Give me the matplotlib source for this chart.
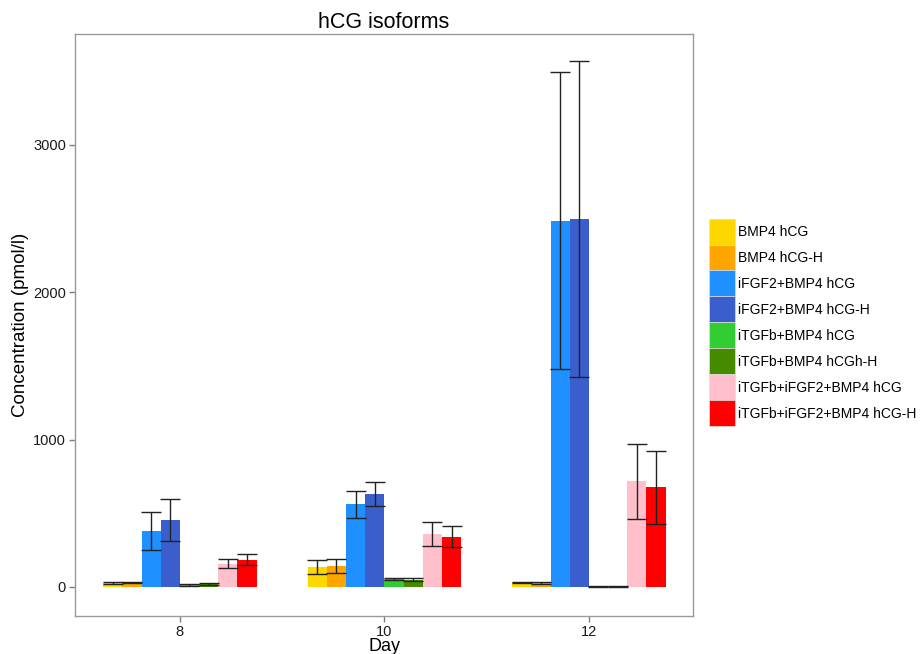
import matplotlib
matplotlib.use("Agg")
import matplotlib.pyplot as plt
import matplotlib.patches as mpatches
import numpy as np

# ── Data ──────────────────────────────────────────────────────────────────────
DAYS = ["8", "10", "12"]
GROUPS = [
    "BMP4 hCG",
    "BMP4 hCG-H",
    "iFGF2+BMP4 hCG",
    "iFGF2+BMP4 hCG-H",
    "iTGFb+BMP4 hCG",
    "iTGFb+BMP4 hCGh-H",
    "iTGFb+iFGF2+BMP4 hCG",
    "iTGFb+iFGF2+BMP4 hCG-H",
]
COLORS = ["#FFD700", "#FFA500", "#1E90FF", "#3A5FCD",
          "#32CD32", "#458B00", "#FFC0CB", "#FF0000"]

# mean concentration per group, one entry per day (8, 10, 12)
bmp4_hcg        = [27, 135, 32]
bmp4_hcgh       = [30, 142, 28]
ifgf2_hcg       = [380, 561, 2486]
ifgf2_hcgh      = [455, 631, 2497]
itgfb_hcg       = [16, 54, 5]
itgfb_hcgh      = [22, 50, 5]
itgfb_ifgf2_hcg  = [158, 360, 718]
itgfb_ifgf2_hcgh = [185, 342, 676]

# error (± half-range of the error bar)
bmp4_hcg_err        = [6, 47, 5]
bmp4_hcgh_err       = [6, 50, 5]
ifgf2_hcg_err       = [129, 93, 1009]
ifgf2_hcgh_err      = [142, 79, 1075]
itgfb_hcg_err       = [6, 9, 3]
itgfb_hcgh_err      = [6, 9, 3]
itgfb_ifgf2_hcg_err  = [30, 82, 254]
itgfb_ifgf2_hcgh_err = [37, 72, 247]

MEANS = [bmp4_hcg, bmp4_hcgh, ifgf2_hcg, ifgf2_hcgh,
         itgfb_hcg, itgfb_hcgh, itgfb_ifgf2_hcg, itgfb_ifgf2_hcgh]
ERRS = [bmp4_hcg_err, bmp4_hcgh_err, ifgf2_hcg_err, ifgf2_hcgh_err,
        itgfb_hcg_err, itgfb_hcgh_err, itgfb_ifgf2_hcg_err, itgfb_ifgf2_hcgh_err]


def main() -> None:
    plt.rcParams["font.family"] = ["Liberation Sans", "DejaVu Sans"]

    fig = plt.figure(figsize=(9.22, 6.54), dpi=100)
    ax = fig.add_axes([75 / 922, 1 - 616 / 654, (693 - 75) / 922, (616 - 34) / 654])

    x = np.arange(1, len(DAYS) + 1)
    n = len(GROUPS)
    w = 0.75 / n

    # ── Bars + error bars ─────────────────────────────────────────────────────
    for i, (name, col, m, e) in enumerate(zip(GROUPS, COLORS, MEANS, ERRS)):
        xi = x + (i - (n - 1) / 2) * w
        m = np.array(m)
        e = np.array(e)
        ax.bar(xi, m, width=w, color=col, edgecolor="none", label=name, zorder=2)
        ax.errorbar(xi, m, yerr=e, fmt="none", ecolor="#222222",
                    elinewidth=1.0, capsize=w * 204.5 / 2 * 0.72,
                    capthick=1.0, zorder=3)

    # ── Axes ──────────────────────────────────────────────────────────────────
    ax.set_xlim(0.487, 3.509)
    ax.set_ylim(-197, 3753)
    ax.set_xticks(x)
    ax.set_xticklabels(DAYS)
    ax.set_yticks([0, 1000, 2000, 3000])
    ax.tick_params(axis="both", direction="out", length=4, width=1,
                   color="#7f7f7f", labelsize=10.5, labelcolor="#1a1a1a", pad=2.5)
    for sp in ax.spines.values():
        sp.set_color("#9a9a9a")
        sp.set_linewidth(1.0)

    ax.set_xlabel("Day", fontsize=13, labelpad=-1)
    ax.set_ylabel("Concentration (pmol/l)", fontsize=13.5, labelpad=3)
    ax.set_title("hCG isoforms", fontsize=15.5, pad=4)

    # ── Legend ────────────────────────────────────────────────────────────────
    handles = [mpatches.Patch(facecolor=c, edgecolor="#dddddd", linewidth=0.5)
               for c in COLORS]
    fig.legend(handles, GROUPS, loc="upper left",
               bbox_to_anchor=(703 / 922, 1 - 213 / 654),
               frameon=False, fontsize=10, labelspacing=0.0,
               handlelength=1.87, handleheight=2.5, handletextpad=0.25,
               borderaxespad=0.0)

    fig.savefig("out.png", dpi=100)
    plt.close(fig)


if __name__ == "__main__":
    main()
